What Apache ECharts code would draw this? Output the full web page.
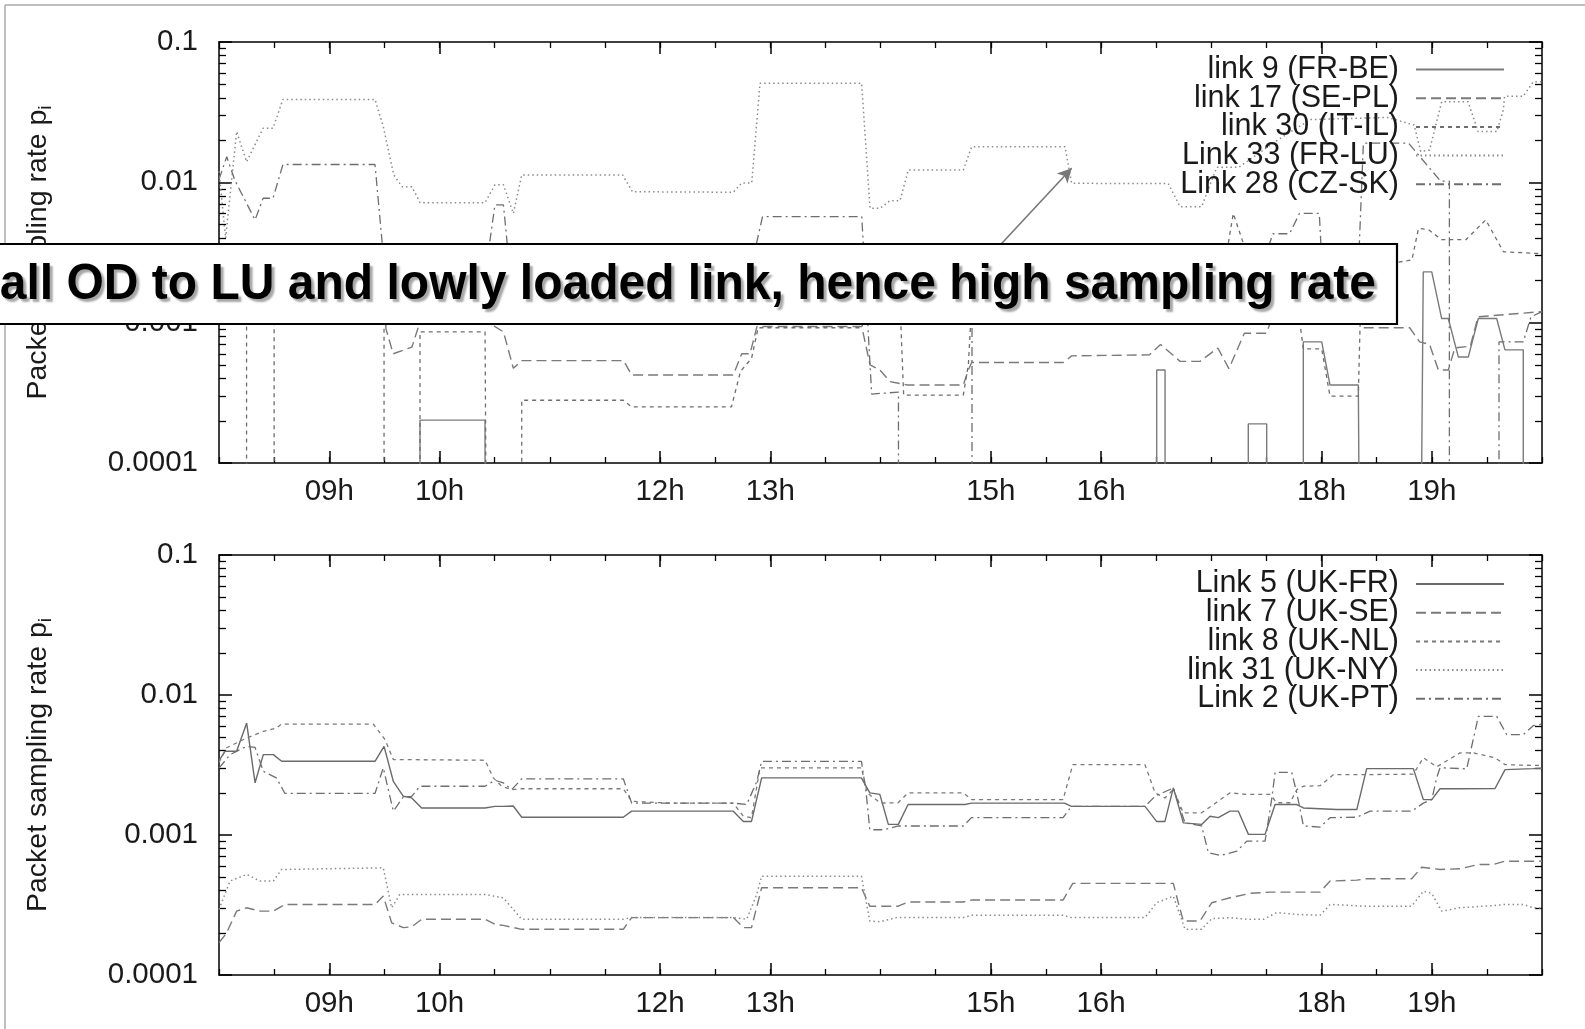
<!DOCTYPE html>
<html>
<head>
<meta charset="utf-8">
<script src="https://cdn.jsdelivr.net/npm/echarts@6/dist/echarts.min.js"></script>
<style>
html,body{margin:0;padding:0;background:#fff;}
#chart{width:1585px;height:1029px;}
</style>
</head>
<body>
<div id="chart"></div>
<script>
// ---------- data (hours of day, packet sampling rate) ----------
const Z = 1e-7; // value below the plotted range (rate ~ 0)

const xTickLabels = [9, 10, 12, 13, 15, 16, 18, 19];

// Top panel
const topNames = ['link 9 (FR-BE)', 'link 17 (SE-PL)', 'link 30 (IT-IL)', 'Link 33 (FR-LU)', 'Link 28 (CZ-SK)'];
const link9 = [[8.0,Z],[9.823,Z],[9.823,0.000202],[10.413,0.000202],[10.413,Z],[16.505,Z],[16.505,0.00046],[16.581,0.00046],[16.581,Z],
  [17.336,Z],[17.336,0.00019],[17.503,0.00019],[17.503,Z],[17.835,Z],[17.835,0.00073],[18.002,0.00073],[18.077,0.00036],[18.334,0.00036],
  [18.365,Z],[18.878,Z],[18.923,0.0023],[19.0,0.0023],[19.09,0.00107],[19.15,0.00107],[19.241,0.00057],[19.332,0.00057],[19.422,0.00107],
  [19.589,0.00107],[19.664,0.00064],[19.83,0.00064],[19.83,Z],[20.0,Z]];
const link17 = [[8.0,0.0025],[9.497,0.0015],[9.515,0.0009],[9.58,0.0006],[9.75,0.00067],[9.81,0.00094],[9.9,0.0012],[10.45,0.0012],
  [10.5,0.00094],[10.58,0.00086],[10.67,0.000473],[10.746,0.000536],[11.67,0.000536],[11.743,0.000424],[12.665,0.000424],[12.741,0.0006],
  [12.816,0.0006],[12.88,0.00094],[13.83,0.00094],[13.905,0.0005],[13.995,0.00046],[14.086,0.00038],[14.163,0.00037],[14.24,0.00036],
  [14.751,0.00036],[14.797,0.00046],[14.827,0.00052],[15.658,0.00052],[15.734,0.00058],[16.44,0.00059],[16.54,0.0007],[16.717,0.00053],
  [16.898,0.00053],[17.06,0.00066],[17.16,0.00047],[17.3,0.00084],[17.5,0.00084],[17.59,0.0013],[18.3,0.0015],[18.365,0.00092],
  [18.8,0.00092],[18.89,0.00073],[18.98,0.0007],[19.06,0.00046],[19.15,0.00046],[19.21,0.00066],[19.35,0.00068],[19.42,0.0011],[20.0,0.0012]];
const link30 = [[8.0,0.0015],[8.25,0.0015],[8.25,Z],[8.5,Z],[8.5,0.0015],[9.497,0.0015],[9.497,Z],[9.823,Z],[9.823,0.00086],[10.413,0.00086],
  [10.443,Z],[10.746,Z],[10.746,0.00028],[11.667,0.00028],[11.743,0.000251],[12.648,0.000251],[12.73,0.00045],[12.83,0.000556],[12.89,0.00092],
  [13.83,0.00092],[13.87,0.0012],[14.18,0.0012],[14.21,0.000305],[14.751,0.000305],[14.797,0.0005],[14.83,0.0015],[17.14,0.0015],[17.15,0.0035],
  [17.2,0.006],[17.3,0.0035],[17.35,0.0018],[17.75,0.0018],[17.81,0.00092],[17.835,0.00065],[18.002,0.00065],[18.077,0.0003],[18.334,0.0003],
  [18.36,0.002],[18.7,0.0027],[18.82,0.0028],[18.88,0.0047],[18.97,0.0046],[19.09,0.0039],[19.31,0.0039],[19.49,0.0054],[19.65,0.0032],[20.0,0.0031]];
const link33 = [[8.0,0.012],[8.06,0.004],[8.16,0.023],[8.25,0.014],[8.40,0.0243],[8.49,0.0243],[8.58,0.039],[9.415,0.039],[9.49,0.025],
  [9.585,0.0113],[9.66,0.0093],[9.75,0.0093],[9.824,0.00716],[10.413,0.00716],[10.503,0.0096],[10.58,0.0096],[10.67,0.006],[10.746,0.0113],
  [11.66,0.0113],[11.75,0.00857],[12.665,0.0085],[12.741,0.0099],[12.832,0.0099],[12.907,0.0508],[13.829,0.0508],[13.905,0.00653],
  [13.995,0.00653],[14.086,0.0074],[14.177,0.0074],[14.252,0.01225],[14.751,0.01225],[14.827,0.01795],[15.673,0.01795],[15.734,0.00984],
  [16.61,0.0098],[16.717,0.0067],[16.913,0.0067],[17.05,0.0128],[17.25,0.0128],[17.6,0.02],[17.9,0.028],[18.6,0.029],[18.84,0.0256],
  [18.9,0.0166],[18.98,0.017],[19.09,0.0375],[19.33,0.0375],[19.42,0.023],[19.59,0.023],[19.65,0.033],[19.66,0.041],[19.83,0.041],
  [19.92,0.052],[20.0,0.052]];
const link28 = [[8.0,0.0105],[8.07,0.0152],[8.145,0.0103],[8.327,0.0054],[8.40,0.0077],[8.49,0.0077],[8.58,0.0134],[9.415,0.0134],
  [9.5,0.0025],[9.6,0.0018],[10.4,0.0018],[10.45,0.0035],[10.503,0.0069],[10.58,0.0069],[10.625,0.003],[10.7,0.0016],[12.8,0.0016],
  [12.85,0.003],[12.93,0.0057],[13.83,0.0057],[13.92,0.00031],[14.163,0.00032],[14.163,Z],[14.83,Z],[14.83,0.0016],[17.45,0.0016],
  [17.52,0.0035],[17.56,0.0043],[17.71,0.0043],[17.8,0.006],[17.98,0.006],[18.0,0.003],[18.33,0.002],[18.38,0.019],[18.79,0.019],
  [19.08,0.0102],[19.16,0.0102],[19.16,Z],[19.61,Z],[19.61,0.00073],[19.83,0.00073],[19.9,0.0011],[20.0,0.0012]];

// Annotation arrow (data coordinates, top panel)
const arrowFrom = [15.099, 0.00367];
const arrowTo = [15.734, 0.0126];
const annotationText = 'all OD to LU and lowly loaded link, hence high sampling rate';

// Bottom panel
const bottomNames = ['Link 5 (UK-FR)', 'link 7 (UK-SE)', 'link 8 (UK-NL)', 'link 31 (UK-NY)', 'Link 2 (UK-PT)'];
const link5 = [[8.0,0.0034],[8.054,0.00396],[8.16,0.00396],[8.251,0.0063],[8.327,0.00236],[8.402,0.00375],[8.493,0.00375],[8.568,0.00336],
  [9.415,0.00336],[9.497,0.0043],[9.581,0.00242],[9.672,0.00189],[9.748,0.00184],[9.838,0.00156],[10.413,0.00156],[10.503,0.0016],
  [10.579,0.0016],[10.669,0.00161],[10.746,0.00134],[11.667,0.00134],[11.743,0.00148],[12.665,0.00148],[12.756,0.00125],[12.83,0.00125],
  [12.922,0.00256],[13.827,0.00256],[13.903,0.002],[13.994,0.00195],[14.071,0.00119],[14.162,0.00119],[14.25,0.00165],[14.766,0.00165],
  [14.825,0.00169],[15.668,0.00169],[15.732,0.0016],[16.399,0.0016],[16.504,0.00125],[16.58,0.00125],[16.656,0.00217],[16.747,0.00122],
  [16.913,0.00119],[16.989,0.00136],[17.064,0.00133],[17.17,0.00148],[17.246,0.00148],[17.337,0.00101],[17.488,0.00101],[17.579,0.00165],
  [17.776,0.00165],[17.836,0.00156],[18.138,0.00152],[18.32,0.00152],[18.41,0.00298],[18.833,0.00298],[18.924,0.00179],[19.0,0.00179],
  [19.075,0.00214],[19.257,0.00214],[19.574,0.00215],[19.665,0.00293],[19.92,0.00298],[20.0,0.003]];
const link7 = [[8.0,0.00017],[8.069,0.0002],[8.16,0.000286],[8.251,0.000302],[8.372,0.000286],[8.493,0.000286],[8.598,0.000319],
  [9.415,0.000319],[9.49,0.000366],[9.566,0.000236],[9.672,0.000218],[9.748,0.000221],[9.838,0.00025],[10.413,0.00025],[10.503,0.00023],
  [10.579,0.000226],[10.746,0.000212],[11.667,0.000212],[11.743,0.000257],[12.665,0.000257],[12.756,0.000218],[12.83,0.000218],
  [12.922,0.00042],[13.827,0.00042],[13.903,0.00031],[14.16,0.00031],[14.25,0.000332],[14.75,0.000332],[14.825,0.000343],[15.656,0.000343],
  [15.744,0.000451],[16.656,0.000451],[16.701,0.000328],[16.747,0.000243],[16.898,0.000243],[17.004,0.000328],[17.17,0.000356],
  [17.352,0.000383],[17.533,0.000391],[17.987,0.000391],[18.078,0.000469],[18.32,0.000476],[18.41,0.000487],[18.818,0.000487],
  [18.909,0.000589],[19.075,0.000567],[19.257,0.000574],[19.423,0.000616],[19.559,0.000616],[19.665,0.00065],[20.0,0.00065]];
const link8 = [[8.0,0.0033],[8.069,0.0042],[8.251,0.00493],[8.402,0.0055],[8.52,0.0058],[8.568,0.0062],[9.40,0.0062],[9.506,0.0048],
  [9.581,0.00346],[10.413,0.00342],[10.488,0.00256],[10.564,0.00223],[10.655,0.00211],[10.746,0.00214],[11.667,0.00214],[11.743,0.00174],
  [12.09,0.00169],[12.665,0.00169],[12.756,0.00136],[12.83,0.00133],[12.907,0.00302],[13.827,0.00302],[13.88,0.002],[14.0,0.00169],
  [14.16,0.0017],[14.25,0.002],[14.75,0.002],[14.825,0.00179],[15.656,0.00179],[15.744,0.00318],[16.399,0.00318],[16.49,0.002],
  [16.58,0.00184],[16.656,0.00211],[16.747,0.00144],[16.913,0.00144],[17.17,0.002],[17.322,0.00195],[17.533,0.00195],[17.594,0.0017],
  [17.715,0.0017],[17.776,0.00211],[17.836,0.00223],[17.987,0.00225],[18.108,0.0027],[18.41,0.0027],[18.833,0.00272],[18.924,0.00356],
  [19.045,0.00307],[19.257,0.00386],[19.378,0.00386],[19.574,0.00356],[19.665,0.00318],[19.92,0.00314],[20.0,0.00314]];
const link31 = [[8.0,0.000294],[8.1,0.000469],[8.251,0.000523],[8.372,0.000469],[8.493,0.000469],[8.568,0.000567],[9.49,0.000583],
  [9.566,0.000302],[9.64,0.000376],[10.413,0.000376],[10.579,0.000356],[10.746,0.00025],[11.667,0.00025],[11.743,0.000257],[12.665,0.000257],
  [12.786,0.00025],[12.877,0.000376],[12.922,0.000508],[13.827,0.000508],[13.903,0.000243],[13.994,0.00024],[14.146,0.000257],
  [14.75,0.000257],[14.825,0.000267],[15.656,0.000267],[15.732,0.000257],[16.399,0.000257],[16.504,0.000328],[16.656,0.000366],
  [16.762,0.000212],[16.913,0.000212],[17.004,0.000253],[17.17,0.000257],[17.322,0.00025],[17.473,0.00025],[17.594,0.000279],
  [17.776,0.000271],[17.987,0.000267],[18.078,0.000319],[18.41,0.00031],[18.818,0.00031],[18.924,0.000397],[19.0,0.000383],
  [19.09,0.000286],[19.257,0.000302],[19.574,0.000314],[19.665,0.000319],[19.831,0.000319],[19.92,0.000302],[20.0,0.0003]];
const link2 = [[8.0,0.003],[8.1,0.00375],[8.251,0.0043],[8.327,0.00422],[8.402,0.00285],[8.52,0.00256],[8.598,0.00198],[9.415,0.00198],
  [9.49,0.00302],[9.581,0.00148],[9.672,0.00187],[9.748,0.00189],[9.823,0.00223],[10.413,0.00223],[10.503,0.00246],[10.579,0.00236],
  [10.655,0.00211],[10.746,0.00252],[11.667,0.00252],[11.743,0.00169],[12.665,0.00169],[12.786,0.00165],[12.877,0.0024],[12.922,0.00336],
  [13.827,0.00336],[13.87,0.002],[13.903,0.00109],[14.025,0.00109],[14.162,0.00116],[14.75,0.00116],[14.825,0.00133],[15.656,0.00133],
  [15.732,0.0016],[16.399,0.0016],[16.49,0.00189],[16.656,0.00217],[16.762,0.00122],[16.913,0.00116],[16.974,0.000747],[17.08,0.000714],
  [17.231,0.000766],[17.322,0.000903],[17.488,0.000903],[17.548,0.0018],[17.579,0.0028],[17.73,0.0028],[17.776,0.002],[17.836,0.00116],
  [17.987,0.00114],[18.078,0.00133],[18.32,0.00134],[18.441,0.00148],[18.818,0.00148],[18.924,0.00169],[19.0,0.00179],[19.045,0.00256],
  [19.075,0.00302],[19.317,0.00297],[19.423,0.00704],[19.589,0.00704],[19.68,0.00521],[19.831,0.00521],[19.92,0.00604],[20.0,0.0062]];

// ---------- styling ----------
const FONT = 'Liberation Sans';
const TXT = '#1a1a1a';
const FS = 29.5;
const LFS = 30.5;
const DASH = {
  solid: 'solid',
  long: [10, 5],
  short: [4, 4],
  dot: [1.5, 3],
  dashdot: [9, 4, 2, 4]
};
const GRIDS = [
  {left: 219, right: 43, top: 42, height: 421},
  {left: 219, right: 43, top: 555, height: 420}
];

const minorY = [];
for (let d = -4; d < -1; d++) for (let k = 2; k <= 9; k++) minorY.push(Math.log10(k) + d);

function xAxes(gi) {
  const base = {gridIndex: gi, type: 'value', min: 8, max: 20, splitLine: {show: false}};
  const line = {show: true, onZero: false, lineStyle: {color: '#000', width: 1.5}};
  return [
    Object.assign({}, base, {position: 'bottom', axisLine: line,
      axisTick: {show: true, inside: true, length: 12, customValues: xTickLabels, lineStyle: {color: '#000', width: 1.5}},
      axisLabel: {show: true, customValues: xTickLabels, margin: 14, fontSize: FS, fontFamily: FONT, color: TXT,
        formatter: v => (v < 10 ? '0' : '') + v + 'h'}}),
    Object.assign({}, base, {position: 'bottom', interval: 0.5, axisLine: {show: false},
      axisTick: {show: true, inside: true, length: 6, lineStyle: {color: '#000', width: 1.3}}, axisLabel: {show: false}}),
    Object.assign({}, base, {position: 'top', axisLine: line,
      axisTick: {show: true, inside: true, length: 12, customValues: xTickLabels, lineStyle: {color: '#000', width: 1.5}},
      axisLabel: {show: false}}),
    Object.assign({}, base, {position: 'top', interval: 0.5, axisLine: {show: false},
      axisTick: {show: true, inside: true, length: 6, lineStyle: {color: '#000', width: 1.3}}, axisLabel: {show: false}})
  ];
}
function yAxes(gi) {
  const line = {show: true, onZero: false, lineStyle: {color: '#000', width: 1.5}};
  return [
    {gridIndex: gi, type: 'log', logBase: 10, min: 0.0001, max: 0.1, position: 'left', axisLine: line, splitLine: {show: false},
      axisTick: {show: true, inside: true, length: 13, lineStyle: {color: '#000', width: 1.5}},
      axisLabel: {show: true, margin: 21, fontSize: FS, fontFamily: FONT, color: TXT,
        formatter: v => { const e = Math.round(Math.log10(v)); return v.toFixed(-e); }},
      name: 'Packet sampling rate p{s|i}', nameLocation: 'middle', nameGap: 164,
      nameTextStyle: {fontSize: 28.5, fontFamily: FONT, color: TXT,
        rich: {s: {fontSize: 19, fontFamily: FONT, color: TXT, padding: [14, 0, 0, 0]}}}},
    {gridIndex: gi, type: 'log', logBase: 10, min: 0.0001, max: 0.1, position: 'right', axisLine: line, splitLine: {show: false},
      axisTick: {show: true, inside: true, length: 13, lineStyle: {color: '#000', width: 1.5}}, axisLabel: {show: false}},
    {gridIndex: gi, type: 'value', min: -4, max: -1, position: 'left', axisLine: {show: false}, splitLine: {show: false},
      axisTick: {show: true, inside: true, length: 7, customValues: minorY, lineStyle: {color: '#000', width: 1.3}},
      axisLabel: {show: false}},
    {gridIndex: gi, type: 'value', min: -4, max: -1, position: 'right', axisLine: {show: false}, splitLine: {show: false},
      axisTick: {show: true, inside: true, length: 7, customValues: minorY, lineStyle: {color: '#000', width: 1.3}},
      axisLabel: {show: false}}
  ];
}

function mkSeries(name, data, dash, gi, color, width, extra) {
  return Object.assign({
    name, type: 'line', data, xAxisIndex: gi * 4, yAxisIndex: gi * 4,
    symbol: 'none', showSymbol: false, clip: true, animation: false, silent: true,
    lineStyle: {color, width, type: dash},
    itemStyle: {color}
  }, extra || {});
}

const series = [
  mkSeries(topNames[0], link9, DASH.solid, 0, '#7a7a7a', 1.4),
  mkSeries(topNames[1], link17, DASH.long, 0, '#7a7a7a', 1.4),
  mkSeries(topNames[2], link30, DASH.short, 0, '#6e6e6e', 1.3),
  mkSeries(topNames[3], link33, DASH.dot, 0, '#8a8a8a', 1.5, {
    markLine: {silent: true, symbol: ['none', 'arrow'], symbolSize: [11, 14], animation: false,
      lineStyle: {color: '#777', width: 1.6, type: 'solid'}, label: {show: false},
      data: [[{coord: arrowFrom}, {coord: arrowTo}]]}
  }),
  mkSeries(topNames[4], link28, DASH.dashdot, 0, '#6e6e6e', 1.3),
  mkSeries(bottomNames[0], link5, DASH.solid, 1, '#6a6a6a', 1.4),
  mkSeries(bottomNames[1], link7, DASH.long, 1, '#7a7a7a', 1.4),
  mkSeries(bottomNames[2], link8, DASH.short, 1, '#7a7a7a', 1.3),
  mkSeries(bottomNames[3], link31, DASH.dot, 1, '#8a8a8a', 1.5),
  mkSeries(bottomNames[4], link2, DASH.dashdot, 1, '#6e6e6e', 1.3)
];

function legend(names, top) {
  return {
    data: names, orient: 'vertical', align: 'right', right: 80, top, padding: 0,
    itemWidth: 88, itemHeight: 14, itemGap: -2.3, selectedMode: false,
    itemStyle: {opacity: 0, color: 'rgba(0,0,0,0)', borderWidth: 0},
    textStyle: {fontSize: LFS, fontFamily: FONT, color: TXT, lineHeight: 20, padding: [0, 12, 0, 0]}
  };
}

const chart = echarts.init(document.getElementById('chart'), null, {renderer: 'canvas'});
chart.setOption({
  backgroundColor: '#fff',
  animation: false,
  grid: GRIDS.map(g => Object.assign({show: false, containLabel: false, outerBoundsMode: 'none'}, g)),
  xAxis: xAxes(0).concat(xAxes(1)),
  yAxis: yAxes(0).concat(yAxes(1)),
  legend: [legend(topNames, 54), legend(bottomNames, 568.5)],
  series,
  graphic: [
    {type: 'line', shape: {x1: 5, y1: 5, x2: 1585, y2: 5}, style: {stroke: '#aaa', lineWidth: 1.5}, z: 50, silent: true},
    {type: 'line', shape: {x1: 5, y1: 5, x2: 5, y2: 1029}, style: {stroke: '#aaa', lineWidth: 1.5}, z: 50, silent: true},
    {type: 'rect', shape: {x: -10, y: 244, width: 1407, height: 80}, style: {fill: '#fff', stroke: '#000', lineWidth: 2.2}, z: 100, silent: true},
    {type: 'text', x: 1376, y: 285, scaleX: 0.96, z: 101, silent: true,
      style: {text: annotationText, align: 'right', verticalAlign: 'middle',
        font: 'bold 50px "Liberation Sans"', fill: '#000',
        textShadowColor: 'rgba(0,0,0,0.35)', textShadowOffsetX: 3, textShadowOffsetY: 3, textShadowBlur: 2}}
  ]
});
</script>
</body>
</html>
